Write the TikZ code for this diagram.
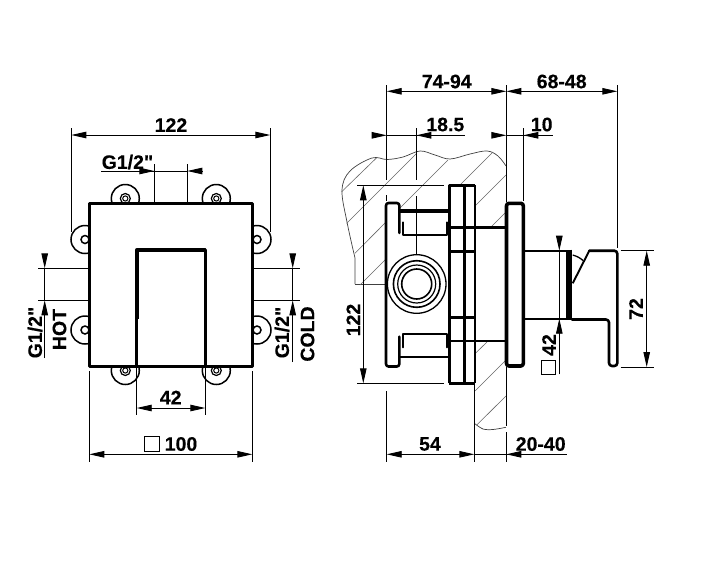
\documentclass[tikz,border=0pt]{standalone}
\usepackage{fontspec}
\setmainfont{Liberation Sans}[Ligatures=TeXOff,BoldFeatures={FakeBold=0.25}]
\usetikzlibrary{arrows.meta}
\tikzset{
  x=1pt,y=-1pt,
  thin line/.style={line width=0.9pt,black},
  dimboth/.style={thin line,{Triangle[length=15pt,width=6.5pt]}-{Triangle[length=15pt,width=6.5pt]}},
  dimend/.style={thin line,-{Triangle[length=15pt,width=6.5pt]}},
  hatchline/.style={line width=0.6pt,black!60},
  wallline/.style={line width=0.7pt,black!75},
  heavy/.style={line width=2.6pt,black,line join=round,line cap=round},
  heavier/.style={line width=3.6pt,black,line join=round},
  medium/.style={line width=1.9pt,black,line join=round},
  ear/.style={line width=1.5pt,black,fill=white},
  label/.style={font=\bfseries\fontsize{19.5}{22}\selectfont,inner sep=0pt,text=black},
  sqbox/.style={line width=0.9pt,black},
}
\begin{document}
\begin{tikzpicture}
\useasboundingbox (0,0) rectangle (703,560);
% ---------- left view: ears
\foreach \cx/\cy in {125.3/198.5,216.3/198.5,125.3/370.5,216.3/370.5}{
  \draw[ear] (\cx,\cy) circle (14);
  \draw[line width=1.2pt] (\cx,\cy) circle (5);
  \draw[line width=1pt] (\cx,\cy) circle (2.6);
}
\foreach \cx/\cy in {85/239.5,257/239.5,85/330,257/330}{
  \draw[ear] (\cx,\cy) circle (14);
  \draw[line width=1.5pt] (\cx,\cy) circle (4);
}
% square
\draw[heavy,fill=white] (89.3,203.7) rectangle (252.3,366.3);
\draw[heavier] (136.7,319) -- (136.7,250) -- (205.3,250) -- (205.3,319);
\draw[heavy,line cap=butt] (136.7,319) -- (136.7,366);
\draw[heavy,line cap=butt] (205.3,319) -- (205.3,366);
% dim 122
\draw[thin line] (71.3,128) -- (71.3,232);
\draw[thin line] (270.3,128) -- (270.3,232);
\draw[dimboth] (71.3,135) -- (270.3,135);
\node[label] (t122a) at (171,125) {122};
% dim G1/2 top
\node[label,anchor=west] (tgtop) at (101.5,162) {G1/2"};
\draw[thin line] (154.3,164) -- (154.3,202);
\draw[thin line] (187.3,164) -- (187.3,202);
\draw[thin line] (101,171) -- (154.3,171);
\draw[dimend] (139,171) -- (154.3,171);
\draw[thin line] (154.3,171) -- (187.3,171);
\draw[dimend] (202,171) -- (187.3,171);
% left dim
\draw[thin line] (38,268.3) -- (88,268.3);
\draw[thin line] (38,300.3) -- (88,300.3);
\draw[dimend] (44.7,254) -- (44.7,268.3);
\draw[dimend] (44.7,358) -- (44.7,300.3);
\draw[thin line] (44.7,268.3) -- (44.7,300.3);
\node[label,rotate=90] (tghot) at (35,332.5) {G1/2"};
\node[label,rotate=90] (thot) at (59.5,329.5) {HOT};
% right dim
\draw[thin line] (254,268.3) -- (299.5,268.3);
\draw[thin line] (254,300.3) -- (299.5,300.3);
\draw[dimend] (292.7,254) -- (292.7,268.3);
\draw[dimend] (292.7,362) -- (292.7,300.3);
\draw[thin line] (292.7,268.3) -- (292.7,300.3);
\node[label,rotate=90] (tgcold) at (282,332.5) {G1/2"};
\node[label,rotate=90] (tcold) at (307.5,334) {COLD};
% dim 42
\draw[thin line] (136.7,368) -- (136.7,414.7);
\draw[thin line] (205.3,368) -- (205.3,414.7);
\draw[dimboth] (136.7,408) -- (205.3,408);
\node[label] (t42a) at (170.7,397.5) {42};
% dim 100
\draw[thin line] (89.3,371) -- (89.3,462);
\draw[thin line] (252.3,371) -- (252.3,462);
\draw[dimboth] (89.3,454.3) -- (252.3,454.3);
\draw[sqbox] (144.3,436.7) rectangle (159.3,451.7);
\node[label] (t100) at (181,444) {100};
% ---------- right view: wall
\draw[wallline] (355,284) -- (355,258) plot[smooth,tension=0.6] coordinates {(355,258)(347,222)(342,190)(350,171)(372,158)(387,159.5)(403,157)(420,151)(435,155)(450,159)(470,154)(487,151)(498,156)(506,166)};
\draw[wallline] (355,284) -- (386,284);
\draw[wallline] plot[smooth] coordinates {(474.3,423.3)(483,429)(493,429.5)(506,427.3)};
\draw[hatchline] (341.7,191.7) -- (376.7,157.7);
\draw[hatchline] (346.7,223.3) -- (416.7,153.3);
\draw[hatchline] (355,253.3) -- (386,222);
\draw[hatchline] (400,208) -- (448,160);
\draw[hatchline] (360,285) -- (386,259);
\draw[hatchline] (460,185) -- (493,152);
\draw[hatchline] (475.5,205.5) -- (506,175);
\draw[hatchline] (491,227) -- (505,213);
\draw[hatchline] (475.7,353) -- (487,342);
\draw[hatchline] (475,391) -- (505,361);
\draw[hatchline] (476.7,425) -- (506,396);
% valve body bracket
\draw[heavy,rounded corners=2.5pt] (399.3,233) -- (399.3,203) -- (386,203) -- (386,366.5) -- (399.3,366.5) -- (399.3,336.7);
\draw[heavier] (399,210.7) -- (449.3,210.7);
\draw[heavy,line cap=butt] (399.3,357) -- (449.3,357);
\draw[medium,line cap=round] (403.3,222.3) -- (403.3,235) -- (446.7,235) -- (446.7,222.3);
\draw[medium,line cap=round] (403.3,347.3) -- (403.3,334) -- (446.7,334) -- (446.7,347.3);
% rings
\draw[line width=1.3pt] (416.7,284) circle (29.3);
\draw[line width=1.6pt] (416.7,284) circle (23.3);
\draw[line width=1.2pt] (416.7,284) circle (19);
\draw[line width=1.6pt] (416.7,284) circle (15);
% flange
\draw[heavier] (449.3,383.3) -- (449.3,185.3) -- (475,185.3);
\draw[heavy,line cap=butt] (475,185.3) -- (475,383.3);
\draw[heavier] (449.3,383.3) -- (475,383.3);
\draw[heavy,line cap=butt] (464.3,185.3) -- (464.3,383.3);
\draw[heavy,line cap=butt] (449.3,227.7) -- (506,227.7);
\draw[heavy,line cap=butt] (449.3,251.7) -- (475,251.7);
\draw[heavy,line cap=butt] (449.3,317.7) -- (475,317.7);
\draw[heavy,line cap=butt] (449.3,341) -- (506,341);
% plate
\draw[heavier,rounded corners=2.5pt] (506.5,300) -- (506.5,203.3) -- (523.3,203.3) -- (523.3,366) -- (506.5,366) -- cycle;
% stem
\draw[medium,line cap=butt] (525,250.7) -- (567,250.7);
\draw[medium,line cap=butt] (525,318.7) -- (567,318.7);
\draw[line width=5.2pt] (569,249.7) -- (569,319.7);
% handle
\draw[medium] (572.7,283.3) -- (589.3,250.7);
\draw[heavy,rounded corners=3pt] (589.3,250.7) -- (617.3,250.7) -- (617.3,366) -- (609,366) -- (609,319.5) -- (572,319.5);
\draw[line width=1.3pt] (572.7,255) to[bend left=12] (583.3,260.7);
% dim 74-94
\draw[thin line] (386.7,85) -- (386.7,180);
\draw[thin line] (386.7,195) -- (386.7,201);
\draw[thin line] (386.7,391) -- (386.7,461.7);
\draw[thin line] (506.3,85) -- (506.3,202);
\draw[thin line] (506.3,367) -- (506.3,426);
\draw[thin line] (506.3,432) -- (506.3,461.7);
\draw[dimboth] (386.7,91.3) -- (506.3,91.3);
\node[label] (t7494) at (446.7,81.5) {74-94};
% dim 68-48
\draw[thin line] (617.3,85) -- (617.3,248);
\draw[dimboth] (506.3,91.3) -- (617.3,91.3);
\node[label] (t6848) at (561.7,81.5) {68-48};
% dim 18.5
\draw[thin line] (416.3,128) -- (416.3,180);
\draw[thin line] (416.3,196) -- (416.3,255);
\draw[dimend] (372.3,135.3) -- (386.7,135.3);
\draw[thin line] (386.7,135.3) -- (465,135.3);
\draw[dimend] (431,135.3) -- (416.3,135.3);
\node[label] (t185) at (445.3,124.5) {18.5};
% dim 10
\draw[thin line] (523.3,128) -- (523.3,201);
\draw[dimend] (492.3,135.3) -- (506.3,135.3);
\draw[thin line] (506.3,135.3) -- (552.7,135.3);
\draw[dimend] (537.7,135.3) -- (523.3,135.3);
\node[label] (t10) at (541.7,124.5) {10};
% dim 122 vertical
\draw[thin line] (357.3,185.3) -- (444,185.3);
\draw[thin line] (357.3,383.3) -- (444,383.3);
\draw[dimboth] (363.3,185.3) -- (363.3,383.3);
\node[label,rotate=90] (t122b) at (353.3,320) {122};
% dim 54
\draw[thin line] (474.3,385) -- (474.3,461.7);
\draw[dimboth] (386.7,454.3) -- (474.3,454.3);
\node[label] (t54) at (430,444) {54};
% dim 20-40
\draw[thin line] (474.3,454.3) -- (566.7,454.3);
\draw[dimend] (521,454.3) -- (506.3,454.3);
\node[label] (t2040) at (540.7,444) {20-40};
% dim 42 vertical
\draw[dimend] (559.3,236.7) -- (559.3,250.7);
\draw[thin line] (559.3,250.7) -- (559.3,318.7);
\draw[dimend] (559.3,374.3) -- (559.3,318.7);
\node[label,rotate=90] (t42b) at (549,345) {42};
\draw[sqbox] (541.7,360.7) rectangle (555.7,374.3);
% dim 72
\draw[thin line] (620.7,250.7) -- (654,250.7);
\draw[thin line] (620.7,367) -- (654,367);
\draw[dimboth] (646.7,250.7) -- (646.7,367);
\node[label,rotate=90] (t72) at (636,309) {72};
\end{tikzpicture}
\end{document}
